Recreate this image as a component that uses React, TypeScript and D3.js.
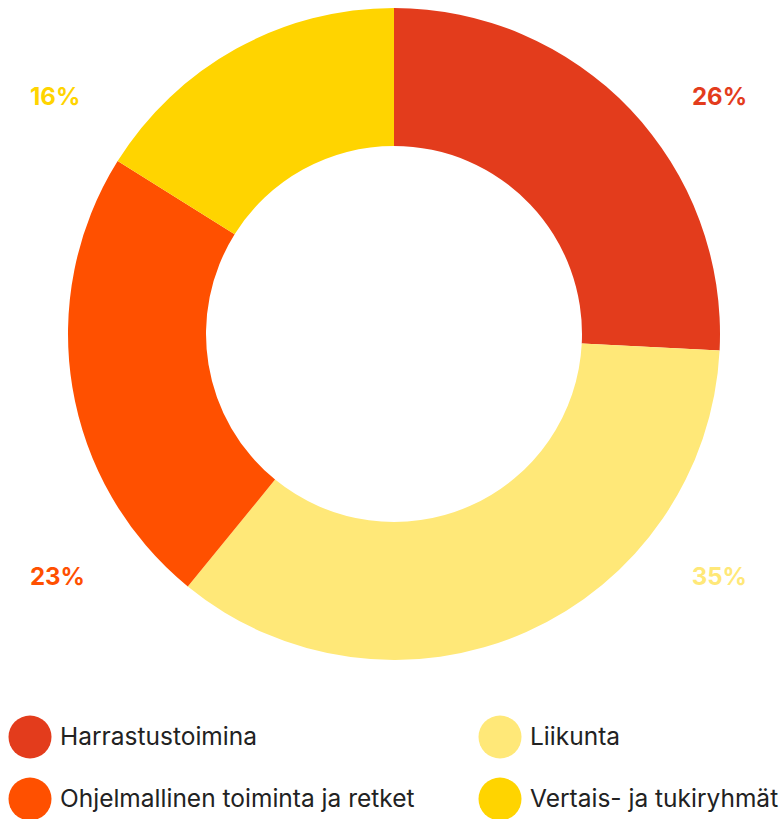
import React from "react";
import * as d3 from "d3";

const categories = ["Harrastustoimina", "Liikunta", "Ohjelmallinen toiminta ja retket", "Vertais- ja tukiryhmät"];
const values = [25.8, 35.1, 23.0, 16.1];
const colors = ["#E33C1C", "#FFE878", "#FF5000", "#FFD400"];
const legendOrder = [0, 1, 2, 3];

const W = 779;
const H = 819;
const cx = 394;
const cy = 334;
const outerR = 326;
const innerR = 188;
const FONT = "Inter, 'Noto Sans', sans-serif";

export default function App() {
  const pie = d3.pie<number>().sort(null).value((d) => d)(values);
  const arc = d3.arc<d3.PieArcDatum<number>>().innerRadius(innerR).outerRadius(outerR);

  const legendX = d3.scalePoint<number>().domain([0, 1]).range([30, 500]);
  const legendY = d3.scalePoint<number>().domain([0, 1]).range([737, 799]);

  return (
    <svg width={W} height={H} style={{ position: "absolute", left: 0, top: 0 }}>
      <g transform={`translate(${cx},${cy})`}>
        {pie.map((p, i) => (
          <path key={i} d={arc(p) || ""} fill={colors[i]} />
        ))}
      </g>
      {pie.map((p, i) => {
        const mid = (p.startAngle + p.endAngle) / 2;
        const right = Math.sin(mid) > 0;
        const top = Math.cos(mid) > 0;
        const x = right ? 747 : 30;
        const y = top ? cy - 229 : cy + 251;
        return (
          <text
            key={i}
            x={x}
            y={y}
            textAnchor={right ? "end" : "start"}
            fill={colors[i]}
            fontFamily={FONT}
            fontWeight={700}
            fontSize={24}
          >
            {`${Math.round(values[i])}%`}
          </text>
        );
      })}
      {legendOrder.map((idx, k) => {
        const col = k % 2;
        const row = Math.floor(k / 2);
        const x = legendX(col)!;
        const y = legendY(row)!;
        return (
          <g key={idx}>
            <circle cx={x} cy={y} r={21.5} fill={colors[idx]} />
            <text x={x + 30} y={y + 7.5} fontFamily={FONT} fontSize={24.5} fill="#222">
              {categories[idx]}
            </text>
          </g>
        );
      })}
    </svg>
  );
}
